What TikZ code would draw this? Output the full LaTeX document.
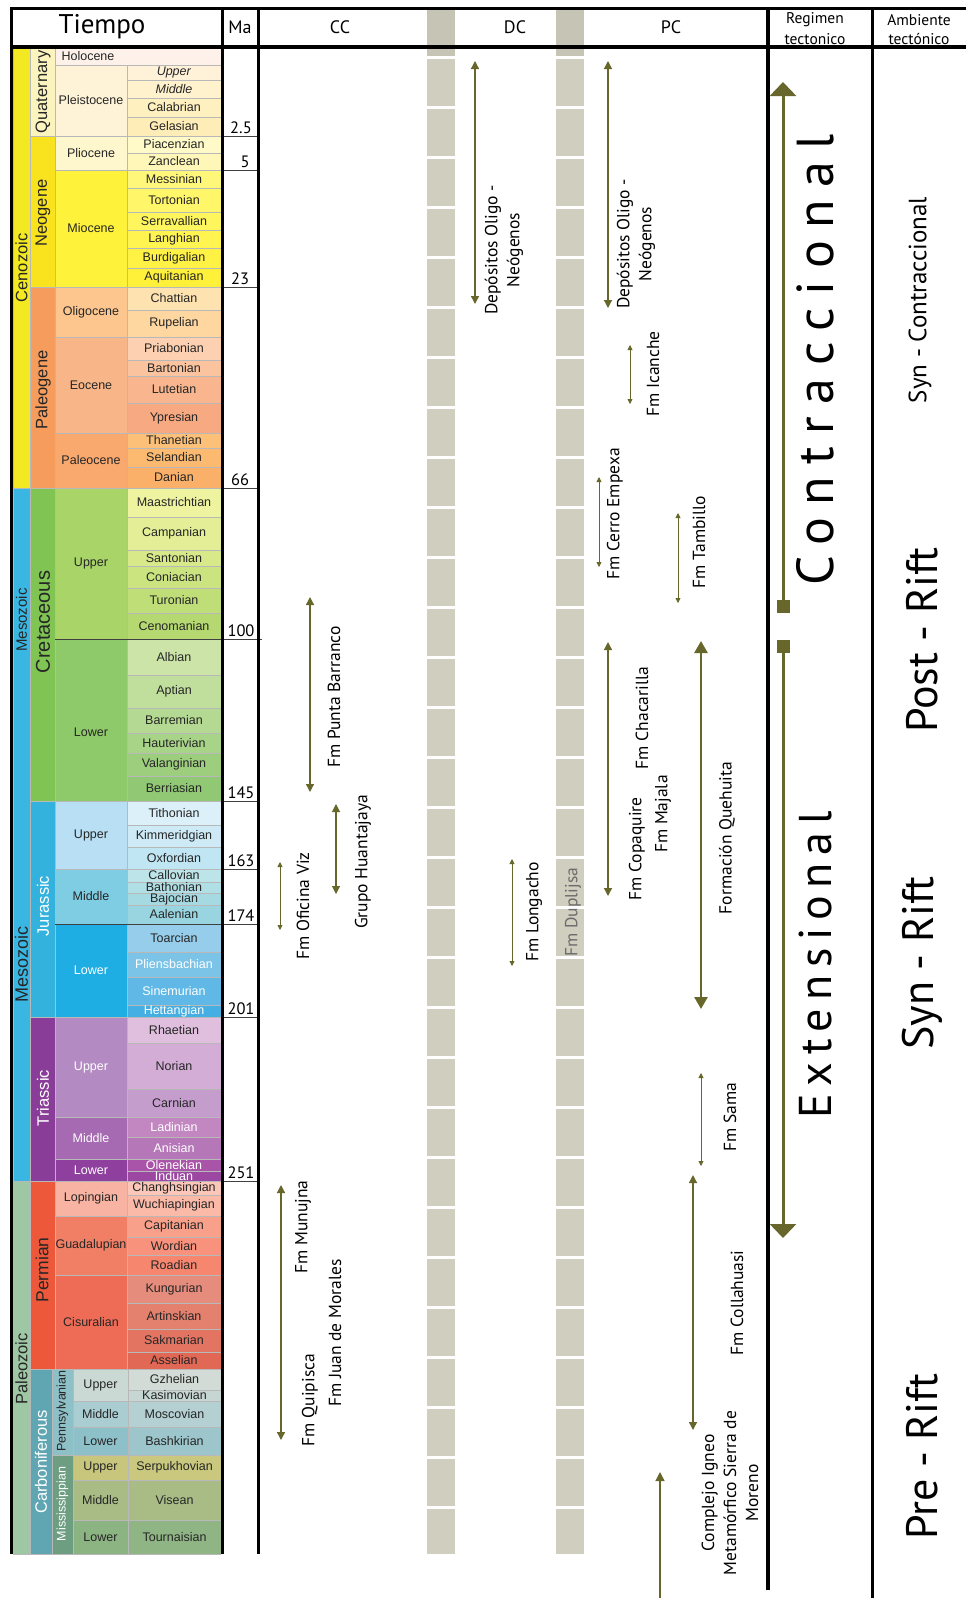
\documentclass[tikz,border=0pt]{standalone}
\usepackage{fontspec}
\setmainfont{Liberation Sans}
\newfontfamily\ptsans{PT Sans}
\usetikzlibrary{arrows.meta}
\definecolor{olv}{HTML}{67672B}
\definecolor{barc}{HTML}{D0CEBF}
\definecolor{barh}{HTML}{C6C4B4}
\newcommand\gc[7]{%
 \definecolor{c#1}{HTML}{#6}%
 \path[cellst,fill=c#1] (#2,#3) rectangle (#4,#5);%
 \node[gtxt] (#1) at ({(#2+#4)/2},{(#3+#5)/2}) {#7};}
\newcommand\wh[1]{\textcolor{white}{#1}}
\tikzset{
 cellst/.style={draw=black!28, line width=0.4pt},
 gtxt/.style={font=\fontsize{12.5}{13}\selectfont, text=black!85, inner sep=0pt},
 ptxt/.style={font=\fontsize{16.5}{17}\selectfont, text=black!85, rotate=90, inner sep=0pt},
 sptxt/.style={font=\fontsize{12.5}{13}\selectfont, text=black!85, rotate=90, inner sep=0pt},
 lbl/.style={font=\ptsans\fontsize{17.5}{22}\selectfont, rotate=90, inner sep=0pt, align=center},
 malbl/.style={font=\ptsans\fontsize{16.5}{17}\selectfont, anchor=base, inner sep=0pt},
 hdr/.style={font=\ptsans\fontsize{18}{20}\selectfont, inner sep=0pt},
 shdr/.style={font=\ptsans\fontsize{15.5}{17}\selectfont, inner sep=0pt},
 amb/.style={font=\ptsans\fontsize{44}{44}\selectfont, rotate=90, inner sep=0pt},
 maline/.style={draw=black!75, line width=0.8pt},
 thinar/.style={draw=olv, line width=0.8pt, {Triangle[length=5pt,width=5pt]}-{Triangle[length=5pt,width=5pt]}},
 medar/.style={draw=olv, line width=1.3pt, {Triangle[length=8pt,width=8pt]}-{Triangle[length=8pt,width=8pt]}},
 bigar/.style={draw=olv, line width=2.6pt, {Triangle[length=12pt,width=13pt]}-{Triangle[length=12pt,width=13pt]}},
 regar/.style={draw=olv, line width=3pt, -{Triangle[length=14pt,width=26pt]}},
 sqm/.style={fill=olv, minimum size=13pt, inner sep=0pt},
}
\begin{document}
\begin{tikzpicture}[x=1pt,y=-1pt]
\useasboundingbox (0,0) rectangle (966,1598);
\fill[white] (0,0) rectangle (966,1598);
% ---------- eras
\gc{cenozoic}{13}{47}{30}{488}{F3E922}{}
\gc{mesozoic}{13}{488}{30}{1181}{3AB6E3}{}
\gc{paleozoic}{13}{1181}{30}{1554}{9EC7A3}{}
% ---------- periods
\gc{quat}{30}{47}{55}{136}{FBF4BE}{}
\gc{neog}{30}{136}{55}{287}{F9E21E}{}
\gc{paleog}{30}{287}{55}{488}{F69C5C}{}
\gc{cret}{30}{488}{55}{801}{80C453}{}
\gc{jur}{30}{801}{55}{1017}{33B2DE}{}
\gc{tri}{30}{1017}{55}{1181}{8A3D98}{}
\gc{perm}{30}{1181}{55}{1369}{EE583A}{}
\gc{carb}{30}{1369}{52}{1554}{5FA6B2}{}
\gc{penn}{52}{1369}{73}{1455}{8EC0C8}{}
\gc{miss}{52}{1455}{73}{1554}{6E9E82}{}
% ---------- epochs
\gc{eholo}{55}{47}{221}{65}{FDF1EA}{}
\node[gtxt] (lholo) at (88,56) {Holocene};
\gc{epleis}{55}{65}{127}{136}{FEF3D6}{Pleistocene}
\gc{eplio}{55}{136}{127}{170}{FEF6CC}{Pliocene}
\gc{emio}{55}{170}{127}{287}{FFF23A}{Miocene}
\gc{eolig}{55}{287}{127}{337}{FDC68F}{Oligocene}
\gc{eeoc}{55}{337}{127}{433}{F8B588}{Eocene}
\gc{epaleoc}{55}{433}{127}{488}{F9A86E}{Paleocene}
\gc{ecu}{55}{488}{127}{639}{A8D468}{Upper}
\gc{ecl}{55}{639}{127}{801}{8FCA6A}{}
\node[gtxt] (lecl) at (91,732) {Lower};
\gc{eju}{55}{801}{127}{869}{B8DFF3}{Upper}
\gc{ejm}{55}{869}{127}{924}{7FCDE2}{Middle}
\gc{ejl}{55}{924}{127}{1017}{1FAEE4}{\wh{Lower}}
\gc{etu}{55}{1017}{127}{1117}{B38AC2}{\wh{Upper}}
\gc{etm}{55}{1117}{127}{1159}{A56AB1}{\wh{Middle}}
\gc{etl}{55}{1159}{127}{1181}{8F3F9E}{\wh{Lower}}
\gc{elop}{55}{1181}{127}{1216}{F9B3A2}{Lopingian}
\gc{egua}{55}{1216}{127}{1275}{F07F66}{Guadalupian}
\gc{ecis}{55}{1275}{127}{1369}{EE6C55}{Cisuralian}
\gc{epu}{73}{1369}{128}{1401}{CAD9D3}{Upper}
\gc{epm}{73}{1401}{128}{1427}{AACDD2}{Middle}
\gc{epl}{73}{1427}{128}{1455}{8EC0CA}{Lower}
\gc{emu}{73}{1455}{128}{1480}{C8C67C}{Upper}
\gc{emm}{73}{1480}{128}{1520}{A9BC86}{Middle}
\gc{eml}{73}{1520}{128}{1554}{8CB382}{Lower}
% ---------- stages
\begin{scope}
\clip (127,47) rectangle (221,1554);
\gc{supper}{127}{65}{221}{80}{FFF2D8}{\textit{Upper}}
\gc{smiddle}{127}{80}{221}{98}{FFF2CC}{\textit{Middle}}
\gc{scala}{127}{98}{221}{117}{FFF0C0}{Calabrian}
\gc{sgela}{127}{117}{221}{136}{FFEDB8}{Gelasian}
\gc{spiac}{127}{136}{221}{153}{FFFAC8}{Piacenzian}
\gc{szanc}{127}{153}{221}{170}{FFF7B8}{Zanclean}
\gc{smess}{127}{170}{221}{188}{FFF77A}{Messinian}
\gc{stort}{127}{188}{221}{212}{FFF66A}{Tortonian}
\gc{sserr}{127}{212}{221}{230}{FFF55C}{Serravallian}
\gc{slang}{127}{230}{221}{248}{FFF450}{Langhian}
\gc{sburd}{127}{248}{221}{268}{FFF245}{Burdigalian}
\gc{saqui}{127}{268}{221}{287}{FFF13A}{Aquitanian}
\gc{schat}{127}{287}{221}{310}{FEE3B0}{Chattian}
\gc{srupe}{127}{310}{221}{337}{FDD6A0}{Rupelian}
\gc{spria}{127}{337}{221}{360}{FCD0B0}{Priabonian}
\gc{sbart}{127}{360}{221}{376}{FBC39E}{Bartonian}
\gc{slute}{127}{376}{221}{403}{F9B68E}{Lutetian}
\gc{sypre}{127}{403}{221}{433}{F7A982}{Ypresian}
\gc{sthan}{127}{433}{221}{448}{FCC079}{Thanetian}
\gc{sselan}{127}{448}{221}{467}{FBBA70}{Selandian}
\gc{sdani}{127}{467}{221}{488}{FAB068}{Danian}
\gc{smaas}{127}{488}{221}{517}{EEF3A0}{Maastrichtian}
\gc{scamp}{127}{517}{221}{550}{E3EE96}{Campanian}
\gc{ssant}{127}{550}{221}{566}{D8E98A}{Santonian}
\gc{sconi}{127}{566}{221}{588}{CCE480}{Coniacian}
\gc{sturo}{127}{588}{221}{613}{C0DE78}{Turonian}
\gc{sceno}{127}{613}{221}{639}{B5D970}{Cenomanian}
\gc{salbi}{127}{639}{221}{675}{CCE4A8}{Albian}
\gc{sapti}{127}{675}{221}{708}{C0DE9C}{Aptian}
\gc{sbarr}{127}{708}{221}{733}{B4D992}{Barremian}
\gc{shaut}{127}{733}{221}{753}{A8D488}{Hauterivian}
\gc{svala}{127}{753}{221}{776}{9CCE7E}{Valanginian}
\gc{sberr}{127}{776}{221}{801}{90C874}{Berriasian}
\gc{stith}{127}{801}{221}{825}{DBF0F8}{Tithonian}
\gc{skimm}{127}{825}{221}{847}{CDEAF6}{Kimmeridgian}
\gc{soxfo}{127}{847}{221}{869}{C0E5F3}{Oxfordian}
\gc{scall}{127}{869}{221}{882}{BDE4E8}{Callovian}
\gc{sbath}{127}{882}{221}{893}{B1DFE6}{Bathonian}
\gc{sbajo}{127}{893}{221}{905}{A5DAE3}{Bajocian}
\gc{saale}{127}{905}{221}{924}{99D5E0}{Aalenian}
\gc{stoar}{127}{924}{221}{952}{95CDEB}{Toarcian}
\gc{splie}{127}{952}{221}{977}{7CC3E8}{\wh{Pliensbachian}}
\gc{ssine}{127}{977}{221}{1005}{60B8E6}{\wh{Sinemurian}}
\gc{shett}{127}{1005}{221}{1017}{45AEE2}{\wh{Hettangian}}
\gc{srhae}{127}{1017}{221}{1043}{E0BEDE}{Rhaetian}
\gc{snori}{127}{1043}{221}{1089}{D3ADD6}{Norian}
\gc{scarn}{127}{1089}{221}{1117}{C59DCD}{Carnian}
\gc{sladi}{127}{1117}{221}{1137}{C286C1}{\wh{Ladinian}}
\gc{sanis}{127}{1137}{221}{1159}{B577B7}{\wh{Anisian}}
\gc{solen}{127}{1159}{221}{1171}{A954A8}{\wh{Olenekian}}
\gc{sindu}{127}{1171}{221}{1181}{9C48A2}{\wh{Induan}}
\gc{schan}{127}{1181}{221}{1195}{FCC6B8}{Changhsingian}
\gc{swuch}{127}{1195}{221}{1216}{FBB9A8}{Wuchiapingian}
\gc{scapi}{127}{1216}{221}{1237}{F9A08A}{Capitanian}
\gc{sword}{127}{1237}{221}{1255}{F8927C}{Wordian}
\gc{sroad}{127}{1255}{221}{1275}{F7866F}{Roadian}
\gc{skung}{127}{1275}{221}{1303}{E58C7C}{Kungurian}
\gc{sarti}{127}{1303}{221}{1329}{E4806E}{Artinskian}
\gc{ssakm}{127}{1329}{221}{1352}{E37462}{Sakmarian}
\gc{sasse}{127}{1352}{221}{1369}{E26856}{Asselian}
\gc{sgzhe}{128}{1369}{221}{1390}{D2DBD6}{Gzhelian}
\gc{skasi}{128}{1390}{221}{1401}{C6D6D2}{Kasimovian}
\gc{smosc}{128}{1401}{221}{1427}{B4D0D2}{Moscovian}
\gc{sbash}{128}{1427}{221}{1455}{9CC6CB}{Bashkirian}
\gc{sserp}{128}{1455}{221}{1480}{C9C87E}{Serpukhovian}
\gc{svise}{128}{1480}{221}{1520}{A9BC86}{Visean}
\gc{stour}{128}{1520}{221}{1554}{90B584}{Tournaisian}
\end{scope}
% ---------- rotated era / period labels
\node[ptxt] (lcen) at (21.5,268) {Cenozoic};
\node[ptxt, font=\fontsize{15}{15}\selectfont] (lmes1) at (21.5,620) {Mesozoic};
\node[ptxt, font=\fontsize{18}{18}\selectfont] (lmes2) at (21.5,964) {Mesozoic};
\node[ptxt] (lpal) at (21.5,1369) {Paleozoic};
\node[ptxt] (lquat) at (43,92) {Quaternary};
\node[ptxt] (lneog) at (43,213) {Neogene};
\node[ptxt] (lpaleog) at (43,390) {Paleogene};
\node[ptxt, font=\fontsize{20}{20}\selectfont] (lcret) at (43,622) {Cretaceous};
\node[ptxt, text=white] (ljur) at (43,906) {Jurassic};
\node[ptxt, text=white] (ltri) at (43,1098) {Triassic};
\node[ptxt, font=\fontsize{17.5}{18}\selectfont] (lperm) at (42,1270) {Permian};
\node[ptxt, text=white] (lcarb) at (41,1462) {Carboniferous};
\node[sptxt] (lpenn) at (62.5,1411) {Pennsylvanian};
\node[sptxt, text=white] (lmiss) at (62.5,1504) {Mississippian};
% ---------- Ma lines and labels
\foreach \yy in {136,170,287,488,801,869,1017,1181} \draw[maline] (221,\yy) -- (259,\yy);
\draw[maline] (55,639) -- (262,639);
\draw[maline] (55,924) -- (259,924);
\node[malbl] (ma1) at (241,133) {2.5};
\node[malbl] (ma2) at (245,167) {5};
\node[malbl] (ma3) at (240,284) {23};
\node[malbl] (ma4) at (240,485) {66};
\node[malbl] (ma5) at (241,636) {100};
\node[malbl] (ma6) at (241,798) {145};
\node[malbl] (ma7) at (241,866) {163};
\node[malbl] (ma8) at (241,921) {174};
\node[malbl] (ma9) at (241,1014) {201};
\node[malbl] (ma10) at (241,1178) {251};
% ---------- gray bars
\foreach \bx in {427,556} {
  \fill[barc] (\bx,8) rectangle ++(28,1546);
  \fill[barh] (\bx,8) rectangle ++(28,47.5);
  \foreach \k in {0,...,29} \fill[white] (\bx-1,55.5+50*\k) rectangle ++(30,3.5);
}
% ---------- header
\node[hdr, font=\ptsans\fontsize{27}{28}\selectfont] (htiempo) at (102,27) {Tiempo};
\node[hdr] (hma) at (240,27) {Ma};
\node[hdr] (hcc) at (340,27) {CC};
\node[hdr] (hdc) at (515,27) {DC};
\node[hdr] (hpc) at (671,27) {PC};
\node[shdr] (hreg1) at (815,20) {Regimen};
\node[shdr] (hreg2) at (815,39) {tectonico};
\node[shdr] (hamb1) at (919,20) {Ambiente};
\node[shdr] (hamb2) at (919,39) {tectónico};
% ---------- CC column
\coordinate (pba) at (310,597); \coordinate (pbb) at (310,792);
\draw[medar] (pba) -- (pbb);
\node[lbl] (lpb) at (334,697) {Fm Punta Barranco};
\coordinate (gha) at (336,804); \coordinate (ghb) at (336,894);
\draw[medar, line width=1.1pt] (gha) -- (ghb);
\node[lbl] (lgh) at (363,862) {Grupo Huantajaya};
\coordinate (ova) at (280,862); \coordinate (ovb) at (280,930);
\draw[thinar] (ova) -- (ovb);
\node[lbl] (lov) at (303,906) {Fm Oficina Viz};
\coordinate (qua) at (281,1185); \coordinate (qub) at (281,1440);
\draw[medar] (qua) -- (qub);
\node[lbl] (lmun) at (303,1227) {Fm Munujna};
\node[lbl] (lqui) at (310,1400) {Fm Quipisca};
\node[lbl] (ljdm) at (335,1333) {Fm Juan de Morales};
% ---------- DC column
\coordinate (dda) at (475,61); \coordinate (ddb) at (475,304);
\draw[medar] (dda) -- (ddb);
\node[lbl] (ldd) at (504,250) {Depósitos Oligo -\\Neógenos};
\coordinate (loa) at (512,859); \coordinate (lob) at (512,966);
\draw[thinar] (loa) -- (lob);
\node[lbl] (llo) at (534,912) {Fm Longacho};
\node[lbl, text=black!58] (ldu) at (573,912) {Fm Duplijsa};
% ---------- PC column
\coordinate (pda) at (608,61); \coordinate (pdb) at (608,308);
\draw[medar] (pda) -- (pdb);
\node[lbl] (lpd) at (636,244) {Depósitos Oligo -\\Neógenos};
\coordinate (ica) at (630,345); \coordinate (icb) at (630,404);
\draw[thinar] (ica) -- (icb);
\node[lbl] (lic) at (653,374) {Fm Icanche};
\coordinate (cea) at (599,477); \coordinate (ceb) at (599,567);
\draw[thinar] (cea) -- (ceb);
\node[lbl] (lce) at (615,514) {Fm Cerro Empexa};
\coordinate (taa) at (678,513); \coordinate (tab) at (678,603);
\draw[thinar] (taa) -- (tab);
\node[lbl] (lta) at (699,542) {Fm Tambillo};
\coordinate (coa) at (608,642); \coordinate (cob) at (608,896);
\draw[medar] (coa) -- (cob);
\node[lbl] (lch) at (642,718) {Fm Chacarilla};
\node[lbl] (lco) at (637,849) {Fm Copaquire};
\node[lbl] (lma) at (663,814) {Fm Majala};
\coordinate (qha) at (701,641); \coordinate (qhb) at (701,1009);
\draw[bigar] (qha) -- (qhb);
\node[lbl] (lqh) at (727,838) {Formación Quehuita};
\coordinate (saa) at (701,1073); \coordinate (sab) at (701,1166);
\draw[thinar] (saa) -- (sab);
\node[lbl] (lsa) at (730,1117) {Fm Sama};
\coordinate (cla) at (693,1175); \coordinate (clb) at (693,1430);
\draw[medar] (cla) -- (clb);
\node[lbl] (lcl) at (737,1303) {Fm Collahuasi};
\coordinate (cxa) at (660,1598); \coordinate (cxb) at (660,1472);
\draw[draw=olv, line width=1.3pt, -{Triangle[length=9pt,width=9pt]}] (cxa) -- (cxb);
\node[lbl] (lcx) at (730,1493) {Complejo Igneo\\Metamórfico Sierra de\\Moreno};
% ---------- Regimen column
\node[sqm] (sq1) at (783,606) {};
\node[sqm] (sq2) at (783,646) {};
\coordinate (ctop) at (783,82);
\coordinate (ebot) at (783,1238);
\draw[regar] (sq1.center) -- (ctop);
\draw[regar] (sq2.center) -- (ebot);
\node[rotate=90, inner sep=0pt, font=\ptsans\fontsize{52}{52}\selectfont\addfontfeature{LetterSpace=24}] (contr) at (815,360) {Contraccional};
\node[rotate=90, inner sep=0pt, font=\ptsans\fontsize{46}{46}\selectfont\addfontfeature{LetterSpace=17}] (exten) at (815,965) {Extensional};
% ---------- Ambiente column
\node[amb, font=\ptsans\fontsize{25}{25}\selectfont] (asc) at (920,300) {Syn - Contraccional};
\node[amb] (apr) at (922,640) {Post - Rift};
\node[amb] (asr) at (922,963) {Syn - Rift};
\node[amb] (apre) at (922,1457) {Pre - Rift};
% ---------- frame lines
\draw[line width=3.5pt] (10,8.5) -- (966,8.5);
\draw[line width=4pt] (10,47) -- (966,47);
\draw[line width=3pt] (11.5,7) -- (11.5,1554);
\draw[line width=3pt] (222.5,7) -- (222.5,1554);
\draw[line width=3pt] (258,7) -- (258,1554);
\draw[line width=4pt] (768,7) -- (768,1590);
\draw[line width=3pt] (872,7) -- (872,1598);
\end{tikzpicture}
\end{document}
